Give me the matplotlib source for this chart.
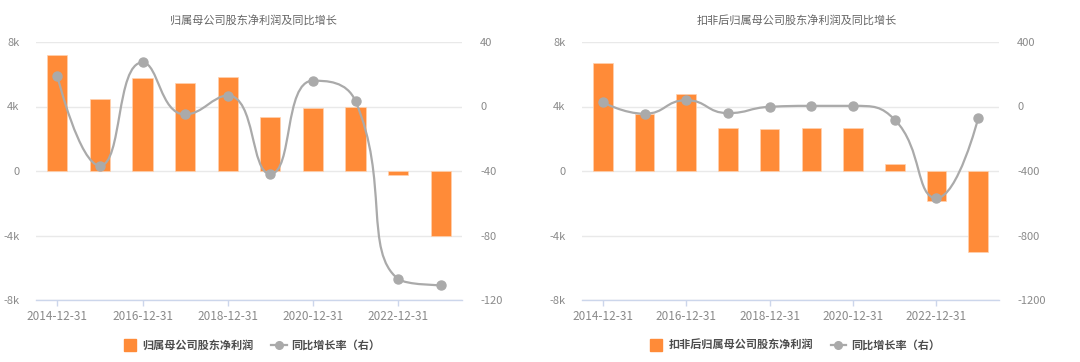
import math
import numpy as np
import matplotlib
matplotlib.use('Agg')
import matplotlib.pyplot as plt
from matplotlib.path import Path
from matplotlib.patches import PathPatch
from matplotlib.lines import Line2D

plt.rcParams['font.family'] = ['Noto Sans CJK SC', 'DejaVu Sans']

# 数据
dates = ['2014-12-31', '2015-12-31', '2016-12-31', '2017-12-31', '2018-12-31',
         '2019-12-31', '2020-12-31', '2021-12-31', '2022-12-31', '2023-12-31']
net_profit = [7200, 4490, 5760, 5480, 5830, 3360, 3880, 3980, -250, -4040]
net_profit_yoy = [18.9, -36.7, 27.3, -4.9, 6.8, -41.8, 16.0, 3.3, -106.9, -110.8]
deducted_profit = [6690, 3550, 4780, 2670, 2610, 2670, 2670, 430, -1870, -5000]
deducted_yoy = [26.7, -45, 39, -41, -2, 4, 4, -82, -568, -74]

left_ticks = [-8000, -4000, 0, 4000, 8000]
left_ticklabels = ['-8k', '-4k', '0', '4k', '8k']
yoy_ticks_a = [-120, -80, -40, 0, 40]
yoy_ticks_b = [-1200, -800, -400, 0, 400]

ORANGE = '#ff8b38'
LINE_GRAY = '#aaaaaa'
GRID = '#e9e9e9'
AXIS_BLUE = '#ccd6eb'
LABEL = '#8a8a8a'

W, H, DPI = 1080, 362, 100
fig = plt.figure(figsize=(W / DPI, H / DPI), dpi=DPI)


def smooth_path(xs, ys, sx, sy, smooth=0.5):
    # echarts 风格的平滑曲线（贝塞尔控制点），在像素尺度下计算
    px = [x * sx for x in xs]
    py = [y * sy for y in ys]
    n = len(px)
    verts = [(px[0], py[0])]
    codes = [Path.MOVETO]
    cpx0, cpy0 = px[0], py[0]
    for i in range(1, n):
        x, y = px[i], py[i]
        prx, pry = px[i - 1], py[i - 1]
        nx_c, ny_c = x, y
        if i + 1 >= n:
            cpx1, cpy1 = x, y
        else:
            nx, ny = px[i + 1], py[i + 1]
            vx, vy = nx - prx, ny - pry
            lp = math.hypot(x - prx, y - pry)
            ln = math.hypot(nx - x, ny - y)
            r = ln / (ln + lp)
            nx_c = x + vx * smooth * r
            ny_c = y + vy * smooth * r
            nx_c = max(min(nx_c, max(nx, x)), min(nx, x))
            ny_c = max(min(ny_c, max(ny, y)), min(ny, y))
            vx, vy = nx_c - x, ny_c - y
            cpx1 = x - vx * lp / ln
            cpy1 = y - vy * lp / ln
            cpx1 = max(min(cpx1, max(prx, x)), min(prx, x))
            cpy1 = max(min(cpy1, max(pry, y)), min(pry, y))
            vx, vy = x - cpx1, y - cpy1
            nx_c = x + vx * ln / lp
            ny_c = y + vy * ln / lp
        verts += [(cpx0, cpy0), (cpx1, cpy1), (x, y)]
        codes += [Path.CURVE4] * 3
        cpx0, cpy0 = nx_c, ny_c
    verts = [(vx_ / sx, vy_ / sy) for vx_, vy_ in verts]
    return Path(verts, codes)


def draw_panel(rect, bars, yoy, yoy_ticks, title, title_x, bar_name, legend_x):
    ax = fig.add_axes(rect)
    ax2 = ax.twinx()
    x = np.arange(len(dates))

    ax.bar(x, bars, width=0.47, color=ORANGE, edgecolor='#ffd2b0', linewidth=0.5, zorder=2)
    ax.set_xlim(-0.5, len(dates) - 0.5)
    ax.set_ylim(left_ticks[0], left_ticks[-1])
    ax.set_yticks(left_ticks)
    ax.set_yticklabels(left_ticklabels)
    ax.set_xticks(x[::2])
    ax.set_xticklabels(dates[::2])
    ax.set_axisbelow(True)
    ax.yaxis.grid(True, color=GRID, linewidth=1.0)
    ax.tick_params(axis='y', length=0, pad=12, labelsize=8, labelcolor=LABEL)
    ax.tick_params(axis='x', length=4, width=1, color=AXIS_BLUE, pad=3,
                   labelsize=8.5, labelcolor=LABEL)

    ax2.set_ylim(yoy_ticks[0], yoy_ticks[-1])
    ax2.set_yticks(yoy_ticks)
    ax2.set_yticklabels([str(t) for t in yoy_ticks])
    ax2.tick_params(axis='y', length=0, pad=13, labelsize=8, labelcolor=LABEL)

    for a in (ax, ax2):
        for s in ('top', 'left', 'right'):
            a.spines[s].set_visible(False)
        a.spines['bottom'].set_color(AXIS_BLUE)
        a.spines['bottom'].set_linewidth(1)
    ax2.spines['bottom'].set_visible(False)

    # 平滑折线
    pos = ax.get_position()
    sx = pos.width * W / (len(dates))
    sy = pos.height * H / (yoy_ticks[-1] - yoy_ticks[0])
    path = smooth_path(list(x), yoy, sx, sy)
    ax2.add_patch(PathPatch(path, fill=False, edgecolor=LINE_GRAY, linewidth=1.6,
                            transform=ax2.transData, zorder=3))
    ax2.plot(x, yoy, 'o', color=LINE_GRAY, markersize=6.5, zorder=4)

    fig.text(title_x, 1 - 20 / H, title, ha='center', va='center', fontsize=8, color='#666666')

    handles = [Line2D([], [], marker='s', ls='none', color=ORANGE, markersize=8),
               Line2D([], [], marker='o', color=LINE_GRAY, markersize=5.5, linewidth=1.6)]
    fig.legend(handles, [bar_name, '同比增长率（右）'], ncol=2, loc='center',
               bbox_to_anchor=(legend_x, 17 / H), frameon=False,
               prop={'size': 8, 'weight': 'bold'},
               labelcolor='#4d4d4d', handlelength=1.4, handletextpad=0.4,
               columnspacing=1.6)
    return ax, ax2


draw_panel([36 / W, 62 / H, 426 / W, 258 / H], net_profit, net_profit_yoy, yoy_ticks_a,
           '归属母公司股东净利润及同比增长', 253 / W, '归属母公司股东净利润', 251 / W)
draw_panel([582 / W, 62 / H, 417 / W, 258 / H], deducted_profit, deducted_yoy, yoy_ticks_b,
           '扣非后归属母公司股东净利润及同比增长', 797 / W, '扣非后归属母公司股东净利润', 794 / W)

fig.savefig('out.png', dpi=DPI)
